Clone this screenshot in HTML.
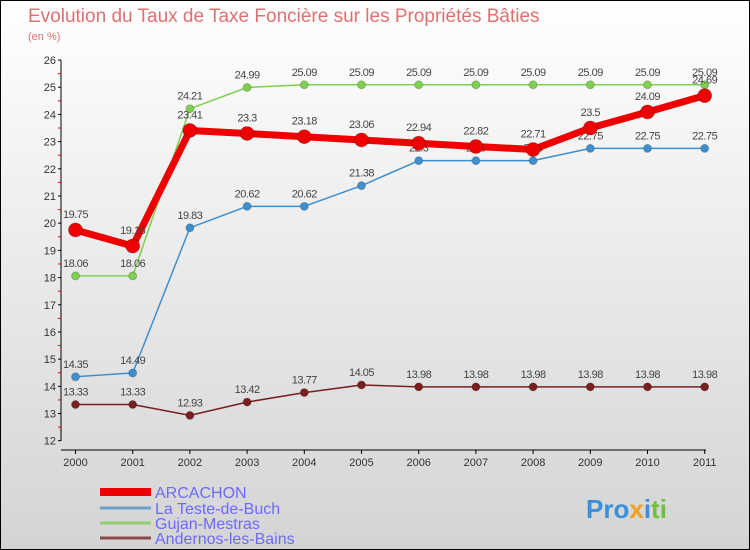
<!DOCTYPE html>
<html><head><meta charset="utf-8"><style>
body{margin:0}
#c{width:750px;height:550px;position:relative;box-sizing:border-box;border:1px solid #000;background:linear-gradient(#fff,#d4d4d4);font-family:"Liberation Sans",sans-serif;overflow:hidden}
</style></head><body>
<div id="c">
<svg id="s" width="750" height="550" style="position:absolute;left:-1px;top:-1px">
<text x="28" y="22" font-size="19" fill="#e07070">Evolution du Taux de Taxe Foncière sur les Propriétés Bâties</text>
<text x="28" y="40" font-size="11" fill="#e07070">(en %)</text>
<text x="586" y="518" font-size="26" font-weight="bold" fill="#3a8fd8">Pro<tspan fill="#f0a020">x</tspan><tspan fill="#3a8fd8">i</tspan><tspan fill="#70c040">ti</tspan></text>
</svg>
</div>
<script>
const years=["2000","2001","2002","2003","2004","2005","2006","2007","2008","2009","2010","2011"];
const arcachon=[19.75,19.16,23.41,23.3,23.18,23.06,22.94,22.82,22.71,23.5,24.09,24.69];
const teste=[14.35,14.49,19.83,20.62,20.62,21.38,22.3,22.3,22.3,22.75,22.75,22.75];
const gujan=[18.06,18.06,24.21,24.99,25.09,25.09,25.09,25.09,25.09,25.09,25.09,25.09];
const andernos=[13.33,13.33,12.93,13.42,13.77,14.05,13.98,13.98,13.98,13.98,13.98,13.98];
const yTicks=[12,13,14,15,16,17,18,19,20,21,22,23,24,25,26];
const names=["ARCACHON","La Teste-de-Buch","Gujan-Mestras","Andernos-les-Bains"];
const s=document.getElementById('s');const NS="http://www.w3.org/2000/svg";
const X=i=>75.5+i*57.2;const Y=v=>440.7-(v-12)*27.19;
function el(t,a,p){const e=document.createElementNS(NS,t);for(const k in a)e.setAttribute(k,a[k]);(p||s).appendChild(e);return e;}
let e=el('line',{x1:61,y1:60,x2:61,y2:441,stroke:'#000','stroke-width':1});


e=el('line',{x1:61,y1:450,x2:706,y2:450,stroke:'#000','stroke-width':1});


yTicks.forEach(v=>{el('line',{x1:58,y1:Y(v),x2:61,y2:Y(v),stroke:'#000'});
 if(v<26)el('line',{x1:58,y1:Y(v+0.5),x2:61,y2:Y(v+0.5),stroke:'#e00'});
 const t=el('text',{x:56,y:Y(v)+4,'font-size':11,'text-anchor':'end',fill:'#333'});t.textContent=v;
 
 });
years.forEach((y,i)=>{el('line',{x1:X(i),y1:450,x2:X(i),y2:454,stroke:'#000'});
 const t=el('text',{x:X(i),y:466,'font-size':11,'text-anchor':'middle',fill:'#333'});t.textContent=y;
 
 });
function series(d,col,w,r,name){
 const g=el('g',{});
 
 
 el('polyline',{points:d.map((v,i)=>X(i)+','+Y(v)).join(' '),fill:'none',stroke:col,'stroke-width':w,'stroke-linejoin':'round'},g);
 d.forEach((v,i)=>{el('circle',{cx:X(i),cy:Y(v),r:r,fill:col,stroke:'#0003'},g);
  const t=el('text',{x:X(i),y:Y(v)-r-5,'font-size':11,'text-anchor':'middle',fill:'#444','letter-spacing':'-0.5'},g);t.textContent=String(v);});
}
series(andernos,'#7a1f1f',1.5,4,'series-andernos');
series(teste,'#3d8fd0',1.5,4,'series-la-teste');
series(gujan,'#7ed050',1.5,4,'series-gujan');
series(arcachon,'#ee0000',7,7,'series-arcachon');
const lc=['#ee0000','#6aa0c8','#8fd070','#8a4a4a'],lw=[8,3,3,3],ly=[492,508,523,538];
names.forEach((n,i)=>{const g=el('g',{});
 
 
 el('line',{x1:100,y1:ly[i],x2:151,y2:ly[i],stroke:lc[i],'stroke-width':lw[i]},g);
 const t=el('text',{x:155,y:ly[i]+6,'font-size':16,fill:'#6a6aff'},g);t.textContent=n;});
</script>
</body></html>
